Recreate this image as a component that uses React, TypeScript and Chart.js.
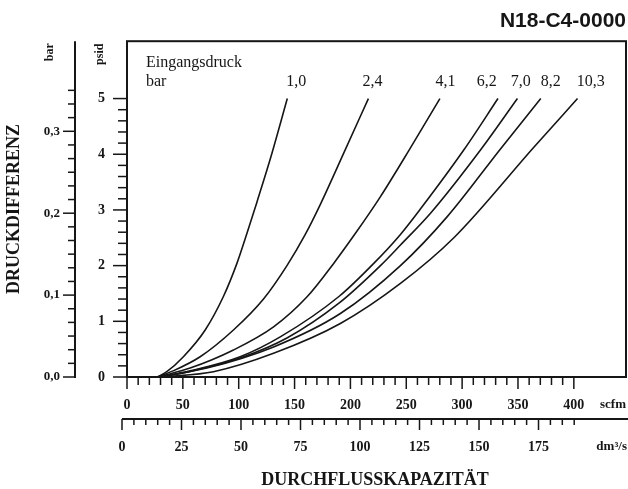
import React, { useEffect, useRef } from "react";
import { Chart, registerables } from "chart.js";

Chart.register(...registerables);

// Inlet pressure (bar) of each curve
const inletPressures = ["1,0", "2,4", "4,1", "6,2", "7,0", "8,2", "10,3"];

// Each curve: [flow in scfm, pressure drop in psid]
const curve_1_0 = [[27, 0], [35.6, 0.095], [50.5, 0.364], [70, 0.844], [86.4, 1.45], [98.4, 2.04], [107.4, 2.58], [116.3, 3.14], [129.5, 4.0], [143.5, 5.0]];
const curve_2_4 = [[27, 0], [41.3, 0.11], [65.5, 0.364], [95.3, 0.844], [122.2, 1.4], [143.2, 2.0], [159.6, 2.56], [173.1, 3.1], [194, 4.02], [216.1, 5.0]];
const curve_4_1 = [[28, 0], [56.5, 0.16], [95.3, 0.485], [131.2, 0.9], [161.2, 1.44], [185, 2.04], [204.5, 2.58], [226.9, 3.24], [252.4, 4.07], [280.1, 5.0]];
const curve_6_2 = [[29, 0], [56.5, 0.11], [101.3, 0.364], [137.2, 0.72], [190, 1.45], [220.9, 2.04], [244.8, 2.56], [262.8, 3.02], [301.6, 4.08], [332.1, 5.0]];
const curve_7_0 = [[29, 0], [56.5, 0.1], [101.3, 0.34], [143.2, 0.7], [190, 1.33], [226.9, 2.0], [244.8, 2.37], [271.7, 2.94], [316.6, 4.08], [349.5, 5.0]];
const curve_8_2 = [[30, 0], [71.5, 0.16], [131.2, 0.54], [191, 1.14], [244.8, 2.0], [286.7, 2.88], [334.5, 4.1], [370.4, 5.0]];
const curve_10_3 = [[32, 0], [77.4, 0.095], [131.2, 0.425], [191, 0.96], [244.8, 1.68], [292.6, 2.5], [364.4, 4.13], [403.3, 5.0]];
const curves = [curve_1_0, curve_2_4, curve_4_1, curve_6_2, curve_7_0, curve_8_2, curve_10_3];

// Curve label anchors (scfm) and their common height (psid)
const labelFlowScfm = [151.6, 219.7, 285.2, 322, 352.5, 379.4, 415.2];
const labelPsid = 5.3;
const legendTitle = ["Eingangsdruck", "bar"];
const legendFlowScfm = 17;
const legendPsid = [5.64, 5.3];

// Axes
const psidTicks = [0, 1, 2, 3, 4, 5];
const psidMinorStep = 0.2;
const psidMax = 6.03;
const barTicks = [0, 0.1, 0.2, 0.3];
const barMinorStep = 1 / 60;
const barMinorEnd = 0.35;
const barMax = 0.41;
const scfmTicks = [0, 50, 100, 150, 200, 250, 300, 350, 400];
const scfmMinorStep = 10;
const scfmMax = 446.7;
const dmTicks = [0, 25, 50, 75, 100, 125, 150, 175];
const dmMinorStep = 5;
const dmMinorEnd = 190;
const dmMax = 212.6;

const SERIF = '"Liberation Serif", "Times New Roman", serif';
const SANS = '"Liberation Sans", Arial, sans-serif';
const INK = "#161616";

const range = (start: number, end: number, step: number) => {
  const out: number[] = [];
  const n = Math.round((end - start) / step);
  for (let i = 0; i <= n; i++) out.push(start + i * step);
  return out;
};
const isMajor = (v: number, majors: number[]) => majors.some((m) => Math.abs(m - v) < 1e-6);

const decorPlugin = {
  id: "decor",
  afterLayout(chart: any) {
    const dm = chart.scales.xDm;
    dm.left = chart.chartArea.left - 5;
    dm.right = chart.width;
    dm.width = dm.right - dm.left;
    dm.configure();
  },
  afterDraw(chart: any) {
    const ctx: CanvasRenderingContext2D = chart.ctx;
    const { left, right, top, bottom } = chart.chartArea;
    const sx = chart.scales.x;
    const sy = chart.scales.y;
    const sb = chart.scales.yBar;
    const sd = chart.scales.xDm;
    ctx.save();
    ctx.strokeStyle = INK;
    ctx.fillStyle = INK;
    ctx.lineWidth = 2;
    ctx.strokeRect(left, top, right - left, bottom - top);
    // bar axis line
    const barX = sb.right;
    ctx.beginPath();
    ctx.moveTo(barX, top);
    ctx.lineTo(barX, bottom + 1);
    ctx.stroke();
    // dm axis line
    const dmY = sd.top;
    ctx.beginPath();
    ctx.moveTo(sd.left, dmY);
    ctx.lineTo(sd.right, dmY);
    ctx.stroke();

    ctx.lineWidth = 1.5;
    const vTicks = (scale: any, vals: number[], majors: number[], x0: number, minL: number, majL: number) => {
      vals.forEach((v) => {
        const py = scale.getPixelForValue(v);
        const L = isMajor(v, majors) ? majL : minL;
        ctx.beginPath();
        ctx.moveTo(x0, py);
        ctx.lineTo(x0 - L, py);
        ctx.stroke();
      });
    };
    const hTicks = (scale: any, vals: number[], majors: number[], y0: number, minL: number, majL: number) => {
      vals.forEach((v) => {
        const px = scale.getPixelForValue(v);
        const L = isMajor(v, majors) ? majL : minL;
        ctx.beginPath();
        ctx.moveTo(px, y0);
        ctx.lineTo(px, y0 + L);
        ctx.stroke();
      });
    };
    vTicks(sy, range(0, psidTicks[psidTicks.length - 1], psidMinorStep), psidTicks, left, 9, 14);
    vTicks(sb, range(0, barMinorEnd, barMinorStep), barTicks, barX, 7, 12);
    hTicks(sx, range(0, scfmTicks[scfmTicks.length - 1], scfmMinorStep), scfmTicks, bottom, 8, 12);
    hTicks(sd, range(0, dmMinorEnd, dmMinorStep), dmTicks, dmY, 6, 11);

    // unit labels
    ctx.textBaseline = "middle";
    ctx.font = `bold 12px ${SERIF}`;
    const rotText = (t: string, x: number, y: number) => {
      ctx.save();
      ctx.translate(x, y);
      ctx.rotate(-Math.PI / 2);
      ctx.textAlign = "center";
      ctx.fillText(t, 0, 0);
      ctx.restore();
    };
    rotText("bar", sb.right - 25, top + 11);
    rotText("psid", sy.right - 27, top + 13);
    ctx.font = `bold 13px ${SERIF}`;
    ctx.textAlign = "right";
    ctx.fillText("scfm", right, sx.top + 28);
    ctx.fillText("dm³/s", chart.width - 1, sd.top + 28);

    // curve labels
    ctx.font = `16px ${SERIF}`;
    ctx.textAlign = "center";
    inletPressures.forEach((lab, i) => {
      ctx.fillText(lab, sx.getPixelForValue(labelFlowScfm[i]), sy.getPixelForValue(labelPsid));
    });
    ctx.font = `16px ${SERIF}`;
    ctx.textAlign = "left";
    legendTitle.forEach((t, i) => {
      ctx.fillText(t, sx.getPixelForValue(legendFlowScfm), sy.getPixelForValue(legendPsid[i]));
    });
    ctx.restore();
  },
};

const tickFont = { family: SERIF, size: 14, weight: "bold" as const };
const noGrid = { display: false, drawTicks: false, drawOnChartArea: false };

export default function App() {
  const ref = useRef<HTMLCanvasElement | null>(null);
  useEffect(() => {
    if (!ref.current) return;
    const chart = new Chart(ref.current, {
      type: "line",
      data: {
        datasets: curves.map((c, i) => ({
          label: inletPressures[i],
          data: c.map(([x, y]) => ({ x, y })),
          borderColor: INK,
          borderWidth: 1.6,
          pointRadius: 0,
          fill: false,
          cubicInterpolationMode: "monotone" as const,
          xAxisID: "x",
          yAxisID: "y",
        })),
      },
      options: {
        responsive: false,
        animation: false,
        events: [],
        layout: { padding: { left: 0, right: 2, top: 0, bottom: 0 } },
        plugins: {
          legend: { display: false },
          tooltip: { enabled: false },
          title: {
            display: true,
            text: "N18-C4-0000",
            align: "end",
            color: INK,
            font: { family: SANS, size: 21, weight: "bold", lineHeight: 1.2 },
            padding: { top: 9, bottom: 7 },
          },
        },
        scales: {
          x: {
            type: "linear",
            position: "bottom",
            weight: 0,
            min: 0,
            max: scfmMax,
            grid: noGrid,
            border: { display: false },
            ticks: { font: tickFont, color: INK, padding: 20, autoSkip: false, maxRotation: 0, callback: (v: any) => String(v) },
            afterBuildTicks: (s: any) => { s.ticks = scfmTicks.map((value) => ({ value })); },
            afterFit: (s: any) => { s.height = 42; },
          },
          xDm: {
            type: "linear",
            position: "bottom",
            weight: 1,
            min: 0,
            max: dmMax,
            grid: noGrid,
            border: { display: false },
            ticks: { font: tickFont, color: INK, padding: 20, autoSkip: false, maxRotation: 0, callback: (v: any) => String(v) },
            afterBuildTicks: (s: any) => { s.ticks = dmTicks.map((value) => ({ value })); },
            afterFit: (s: any) => { s.height = 70; },
            title: {
              display: true,
              text: "DURCHFLUSSKAPAZITÄT",
              color: INK,
              font: { family: SERIF, size: 18, weight: "bold", lineHeight: 1 },
              padding: { top: 0, bottom: 0 },
            },
          },
          y: {
            type: "linear",
            position: "left",
            weight: 0,
            min: 0,
            max: psidMax,
            grid: noGrid,
            border: { display: false },
            ticks: { font: tickFont, color: INK, padding: 22, autoSkip: false, callback: (v: any) => String(v) },
            afterBuildTicks: (s: any) => { s.ticks = psidTicks.map((value) => ({ value })); },
            afterFit: (s: any) => { s.width = 52; },
          },
          yBar: {
            type: "linear",
            position: "left",
            weight: 1,
            min: 0,
            max: barMax,
            grid: noGrid,
            border: { display: false },
            ticks: {
              font: { family: SERIF, size: 13, weight: "bold" },
              color: INK,
              padding: 15,
              autoSkip: false,
              callback: (v: any) => Number(v).toFixed(1).replace(".", ","),
            },
            afterBuildTicks: (s: any) => { s.ticks = barTicks.map((value) => ({ value })); },
            afterFit: (s: any) => { s.width = 75; },
            title: {
              display: true,
              text: "DRUCKDIFFERENZ",
              color: INK,
              font: { family: SERIF, size: 18, weight: "bold", lineHeight: 1.2 },
              padding: { top: 4, bottom: 0 },
            },
          },
        },
      } as any,
      plugins: [decorPlugin],
    });
    return () => chart.destroy();
  }, []);
  return (
    <div style={{ position: "absolute", left: 0, top: 0, width: 628, height: 489, background: "#fff" }}>
      <canvas ref={ref} width={628} height={489} style={{ display: "block" }} />
    </div>
  );
}
